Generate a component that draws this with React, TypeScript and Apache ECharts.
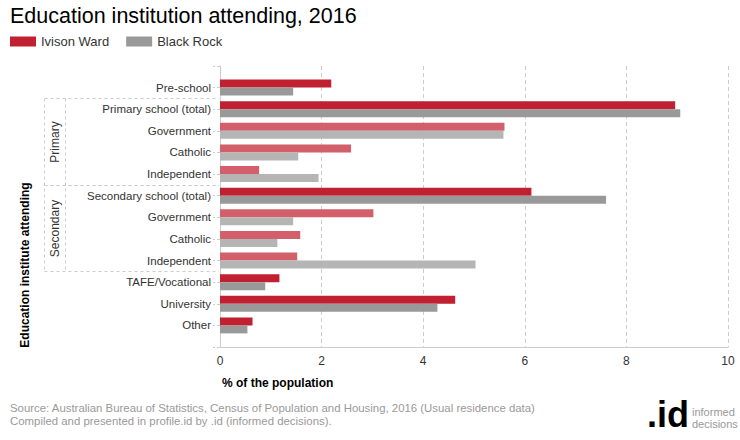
import React, { useEffect, useRef } from "react";
import * as echarts from "echarts";

const categories = [
  "Pre-school",
  "Primary school (total)",
  "Government",
  "Catholic",
  "Independent",
  "Secondary school (total)",
  "Government",
  "Catholic",
  "Independent",
  "TAFE/Vocational",
  "University",
  "Other",
];
const ivisonWard = [2.19, 8.96, 5.6, 2.58, 0.77, 6.13, 3.02, 1.58, 1.52, 1.17, 4.63, 0.64];
const blackRock = [1.44, 9.06, 5.58, 1.54, 1.94, 7.6, 1.44, 1.13, 5.03, 0.89, 4.28, 0.54];
const isSubCategory = [false, false, true, true, true, false, true, true, true, false, false, false];
const groups = [
  { name: "Primary", from: 1, to: 4 },
  { name: "Secondary", from: 5, to: 8 },
];
const xMin = 0;
const xMax = 10;
const xInterval = 2;

const RED = "#C0202F";
const RED_LIGHT = "#D35F6A";
const GRAY = "#999999";
const GRAY_LIGHT = "#B5B5B5";
const FONT = "'Liberation Sans', Arial, sans-serif";

export default function App() {
  const ref = useRef<HTMLDivElement>(null);
  useEffect(() => {
    if (!ref.current) return;
    const chart = echarts.init(ref.current, null, { renderer: "svg" });
    const yCats = ["", ...categories, ""];
    const mk = (vals: number[], dark: string, light: string) => [
      "-",
      ...vals.map((v, i) => ({ value: v, itemStyle: { color: isSubCategory[i] ? light : dark } })),
      "-",
    ];
    chart.setOption({
      animation: false,
      textStyle: { fontFamily: FONT },
      title: {
        text: "Education institution attending, 2016",
        left: 10,
        top: 5,
        padding: 0,
        textStyle: { fontSize: 21.5, fontWeight: "normal", color: "#000", fontFamily: FONT },
      },
      legend: {
        data: ["Ivison Ward", "Black Rock"],
        left: 10,
        top: 35,
        padding: 0,
        itemWidth: 26,
        itemHeight: 10,
        itemGap: 17,
        icon: "rect",
        textStyle: { fontSize: 13, color: "#333", fontFamily: FONT },
      },
      grid: { left: 220, right: 12, top: 66, bottom: 93, containLabel: false },
      xAxis: {
        type: "value",
        min: xMin,
        max: xMax,
        interval: xInterval,
        axisLine: { show: true, lineStyle: { color: "#ccc" } },
        axisTick: { show: false },
        axisLabel: { fontSize: 12, color: "#333", margin: 8, fontFamily: FONT },
        splitLine: { show: true, lineStyle: { color: "#ccc", type: [4, 3] } },
      },
      yAxis: {
        type: "category",
        data: yCats,
        inverse: true,
        boundaryGap: false,
        axisLine: { show: true, lineStyle: { color: "#ccc" } },
        axisTick: { show: true, length: 7, lineStyle: { color: "#ccc", type: [3, 2] } },
        axisLabel: { fontSize: 11.5, color: "#333", margin: 9, fontFamily: FONT, interval: 0 },
        splitLine: { show: false },
      },
      series: [
        {
          name: "Ivison Ward",
          type: "bar",
          itemStyle: { color: RED },
          barWidth: 8,
          barGap: "0%",
          data: mk(ivisonWard, RED, RED_LIGHT),
        },
        {
          name: "Black Rock",
          type: "bar",
          itemStyle: { color: GRAY },
          barWidth: 8,
          barGap: "0%",
          data: mk(blackRock, GRAY, GRAY_LIGHT),
        },
      ],
    });

    const yPx = (i: number) => chart.convertToPixel({ yAxisIndex: 0 }, i + 1) as number;
    const x0 = chart.convertToPixel({ xAxisIndex: 0 }, 0) as number;
    const boundary = (i: number) => (yPx(i) + yPx(i + 1)) / 2; // between i and i+1
    const outerX = 44.5;
    const innerX = 65.5;
    const lineStyle = { stroke: "#ccc", lineWidth: 1, lineDash: [3, 3] };
    const graphics: any[] = [];
    const topY = Math.round(boundary(groups[0].from - 1)) + 0.5;
    const bottomY = Math.round(boundary(groups[groups.length - 1].to)) + 0.5;
    graphics.push({ type: "line", shape: { x1: outerX, y1: topY, x2: outerX, y2: bottomY }, style: lineStyle, silent: true });
    graphics.push({ type: "line", shape: { x1: innerX, y1: topY, x2: innerX, y2: bottomY }, style: lineStyle, silent: true });
    groups.forEach((g) => {
      const a = Math.round(boundary(g.from - 1)) + 0.5;
      const b = Math.round(boundary(g.to)) + 0.5;
      graphics.push({ type: "line", shape: { x1: outerX, y1: a, x2: x0 - 1, y2: a }, style: lineStyle, silent: true });
      graphics.push({ type: "line", shape: { x1: outerX, y1: b, x2: x0 - 1, y2: b }, style: lineStyle, silent: true });
      graphics.push({
        type: "text",
        x: 55,
        y: (a + b) / 2,
        rotation: Math.PI / 2,
        style: { text: g.name, font: `12px ${FONT}`, fill: "#333", align: "center", verticalAlign: "middle" },
        silent: true,
      });
    });
    graphics.push({
      type: "text",
      x: 25,
      y: 265,
      rotation: Math.PI / 2,
      style: { text: "Education institute attending", font: `bold 12px ${FONT}`, fill: "#000", align: "center", verticalAlign: "middle" },
    });
    graphics.push({
      type: "text",
      x: 222,
      y: 383,
      style: { text: "% of the population", font: `bold 12px ${FONT}`, fill: "#000", align: "left", verticalAlign: "middle" },
    });
    graphics.push({
      type: "text",
      x: 10,
      y: 408,
      style: { text: "Source: Australian Bureau of Statistics, Census of Population and Housing, 2016 (Usual residence data)", font: `11.4px ${FONT}`, fill: "#999", verticalAlign: "middle" },
    });
    graphics.push({
      type: "text",
      x: 10,
      y: 421,
      style: { text: "Compiled and presented in profile.id by .id (informed decisions).", font: `11.4px ${FONT}`, fill: "#999", verticalAlign: "middle" },
    });
    graphics.push({
      type: "text",
      x: 689,
      y: 432,
      style: { text: ".id", font: `bold 36px ${FONT}`, fill: "#000", align: "right", verticalAlign: "bottom" },
    });
    graphics.push({
      type: "text",
      x: 692,
      y: 417,
      style: { text: "informed", font: `11px ${FONT}`, fill: "#999", align: "left", verticalAlign: "bottom" },
    });
    graphics.push({
      type: "text",
      x: 692,
      y: 429,
      style: { text: "decisions", font: `11px ${FONT}`, fill: "#999", align: "left", verticalAlign: "bottom" },
    });
    chart.setOption({ graphic: graphics });

    return () => chart.dispose();
  }, []);
  return <div ref={ref} style={{ width: 740, height: 440, position: "absolute", left: 0, top: 0 }} />;
}
